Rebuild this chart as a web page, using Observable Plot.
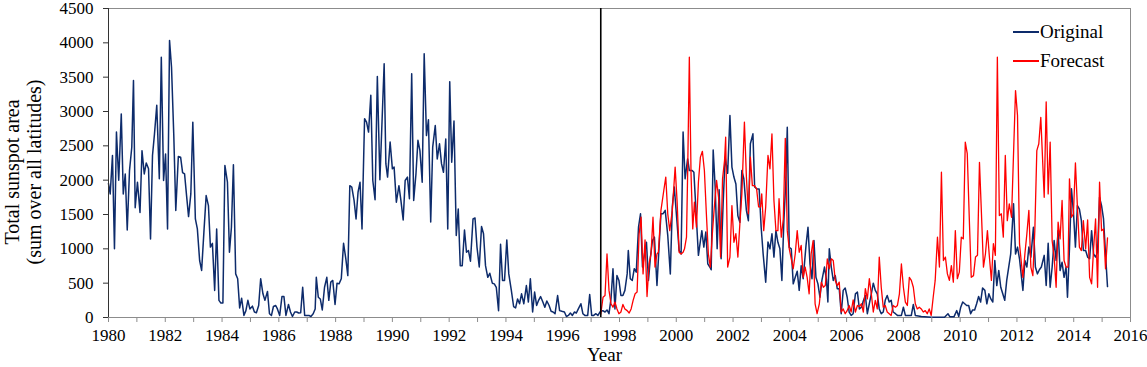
<!DOCTYPE html>
<html>
<head>
<meta charset="utf-8">
<script src="https://cdn.jsdelivr.net/npm/d3@7"></script>
<script src="https://cdn.jsdelivr.net/npm/@observablehq/plot@0.6"></script>
<style>
  html, body { margin: 0; padding: 0; background: #fff; }
  #wrap { position: relative; width: 1147px; height: 367px; font-family: "Liberation Serif", "Times New Roman", serif; }
  #legend { position: absolute; left: 1013px; top: 17px; font-size: 19px; line-height: 29px; color: #000; }
  #legend .row { display: flex; align-items: center; height: 29px; }
  #legend .sw { display: inline-block; width: 26px; height: 2px; margin-right: 1px; }
</style>
</head>
<body>
<div id="wrap"><div id="legend"></div></div>
<script>
// ---- data: [decimal year, total sunspot area] ----
const originalSeries = [
[1980.00,1950],[1980.06,1800],[1980.14,2360],[1980.21,1000],[1980.28,2700],[1980.36,2000],[1980.45,2965],[1980.52,1800],[1980.59,2090],[1980.66,1275],[1980.74,2140],[1980.82,2480],[1980.88,3450],[1980.94,1600],[1981.02,1970],[1981.11,1530],[1981.18,2430],[1981.26,2090],[1981.33,2250],[1981.41,2165],[1981.48,1145],[1981.55,2360],[1981.62,2675],[1981.70,3090],[1981.79,2020],[1981.86,3790],[1981.94,1995],[1982.01,2380],[1982.08,1290],[1982.15,4035],[1982.22,3645],[1982.30,2650],[1982.37,1560],[1982.46,2345],[1982.54,2335],[1982.61,2110],[1982.68,2090],[1982.75,1775],[1982.82,1470],[1982.90,1800],[1982.97,2845],[1983.06,1435],[1983.13,1290],[1983.21,830],[1983.28,685],[1983.36,1240],[1983.44,1775],[1983.52,1630],[1983.59,1025],[1983.66,1080],[1983.74,395],[1983.81,1290],[1983.89,250],[1983.96,210],[1984.03,210],[1984.10,2215],[1984.19,1970],[1984.26,950],[1984.33,1315],[1984.40,2225],[1984.48,635],[1984.55,565],[1984.62,140],[1984.69,280],[1984.77,30],[1984.84,100],[1984.91,250],[1984.98,125],[1985.07,165],[1985.14,80],[1985.21,70],[1985.29,175],[1985.36,565],
[1985.44,345],[1985.51,250],[1985.60,380],[1985.67,55],[1985.74,30],[1985.81,160],[1985.89,175],[1985.95,125],[1986.03,30],[1986.11,305],[1986.18,305],[1986.25,30],[1986.34,190],[1986.41,80],[1986.48,15],[1986.56,80],[1986.63,80],[1986.70,65],[1986.77,70],[1986.84,440],[1986.91,30],[1986.99,30],[1987.06,30],[1987.13,15],[1987.21,55],[1987.28,125],[1987.32,585],[1987.39,295],[1987.46,270],[1987.53,110],[1987.61,440],[1987.69,585],[1987.76,250],[1987.83,515],[1987.90,540],[1987.98,190],[1988.05,500],[1988.12,490],[1988.20,565],[1988.28,1080],[1988.36,855],[1988.43,610],[1988.50,1920],[1988.57,1900],[1988.65,1705],[1988.72,1435],[1988.79,1825],[1988.86,1970],[1988.93,1290],[1989.02,2895],[1989.09,2845],[1989.16,2700],[1989.24,3235],[1989.31,1995],[1989.39,1715],[1989.47,3510],[1989.56,2005],[1989.71,3695],[1989.77,2240],[1989.83,2045],[1989.92,2555],[1990.00,2165],[1990.06,2190],[1990.14,1680],[1990.23,1920],[1990.30,1705],[1990.38,1420],[1990.45,1995],[1990.53,2045],[1990.60,1730],
[1990.68,3550],[1990.75,1705],[1990.83,2090],[1990.90,2580],[1990.97,2430],[1991.05,1970],[1991.12,3840],[1991.20,2650],[1991.27,2880],[1991.35,1390],[1991.42,2480],[1991.51,2795],[1991.58,2310],[1991.66,2530],[1991.73,2240],[1991.80,2115],[1991.88,2600],[1991.95,1290],[1992.02,3435],[1992.09,2260],[1992.17,2860],[1992.25,1195],[1992.32,1580],[1992.39,755],[1992.46,755],[1992.54,1275],[1992.61,950],[1992.68,975],[1992.75,820],[1992.84,1435],[1992.91,1450],[1992.98,1025],[1993.06,735],[1993.14,1325],[1993.21,1220],[1993.28,755],[1993.36,585],[1993.43,645],[1993.52,500],[1993.59,490],[1993.66,440],[1993.74,100],[1993.81,1065],[1993.88,540],[1993.95,540],[1994.03,1130],[1994.10,635],[1994.19,395],[1994.27,160],[1994.34,140],[1994.41,270],[1994.48,200],[1994.55,345],[1994.63,200],[1994.72,465],[1994.79,225],[1994.86,565],[1994.94,80],[1995.01,370],[1995.08,175],[1995.15,250],[1995.22,305],[1995.30,225],[1995.37,150],[1995.44,240],[1995.52,175],[1995.59,90],[1995.66,80],[1995.73,55],[1995.82,320],[1995.89,100],
[1995.97,90],[1996.06,80],[1996.13,15],[1996.20,30],[1996.27,65],[1996.34,30],[1996.41,80],[1996.48,65],[1996.55,125],[1996.64,200],[1996.71,55],[1996.78,30],[1996.88,30],[1996.95,335],[1997.02,30],[1997.09,30],[1997.17,55],[1997.24,30],[1997.31,80],[1997.41,100],[1997.49,80],[1997.56,110],[1997.63,55],[1997.70,270],[1997.77,710],[1997.84,125],[1997.91,610],[1997.98,540],[1998.05,320],[1998.12,320],[1998.19,395],[1998.27,635],[1998.31,975],[1998.38,565],[1998.45,540],[1998.52,710],[1998.59,660],[1998.67,1315],[1998.74,1510],[1998.81,735],[1998.88,925],[1998.95,1095],[1999.02,540],[1999.09,880],[1999.16,1120],[1999.23,1170],[1999.32,465],[1999.39,1000],[1999.46,1510],[1999.53,1510],[1999.61,1560],[1999.70,1195],[1999.79,635],[1999.86,1610],[1999.93,1900],[2000.03,1365],[2000.10,975],[2000.17,925],[2000.24,2700],[2000.31,2020],[2000.40,2310],[2000.46,2140],[2000.56,2140],[2000.62,2115],[2000.78,905],[2000.90,1265],[2000.97,1025],[2001.04,1245],[2001.11,780],[2001.18,735],
[2001.23,695],[2001.30,2440],[2001.37,1900],[2001.44,1000],[2001.51,1860],[2001.58,855],[2001.65,1655],[2001.72,2335],[2001.81,2100],[2001.89,2940],[2001.96,2190],[2002.03,2045],[2002.10,1945],[2002.17,1480],[2002.24,1385],[2002.31,2140],[2002.38,2020],[2002.47,1560],[2002.54,1410],[2002.61,2530],[2002.70,2675],[2002.76,1900],[2002.85,1870],[2002.92,1870],[2002.99,1315],[2003.06,925],[2003.15,515],[2003.23,1100],[2003.30,1000],[2003.37,1220],[2003.44,880],[2003.51,1265],[2003.58,1095],[2003.65,1000],[2003.72,540],[2003.79,1410],[2003.86,1995],[2003.91,2770],[2003.98,1020],[2004.05,1000],[2004.12,490],[2004.19,585],[2004.26,675],[2004.33,395],[2004.40,755],[2004.47,565],[2004.57,1050],[2004.64,1315],[2004.71,780],[2004.78,565],[2004.85,1120],[2004.92,585],[2004.99,490],[2005.06,295],[2005.13,540],[2005.22,735],[2005.29,550],[2005.34,225],[2005.39,1000],[2005.46,735],[2005.53,540],[2005.60,610],[2005.67,420],[2005.74,420],[2005.81,55],[2005.88,395],[2005.95,430],[2006.02,295],[2006.09,80],[2006.16,30],[2006.23,55],[2006.31,345],[2006.38,370],[2006.45,125],[2006.52,150],
[2006.59,245],[2006.66,320],[2006.73,55],[2006.80,200],[2006.87,345],[2006.94,500],[2007.01,395],[2007.08,345],[2007.15,125],[2007.22,55],[2007.29,80],[2007.36,250],[2007.43,320],[2007.50,225],[2007.57,250],[2007.64,80],[2007.72,55],[2007.79,30],[2007.93,30],[2008.00,150],[2008.07,30],[2008.28,30],[2008.35,190],[2008.42,30],[2008.63,15],[2008.98,5],[2009.45,5],[2009.57,55],[2009.64,10],[2009.78,10],[2009.88,100],[2009.95,15],[2010.02,150],[2010.09,225],[2010.16,200],[2010.23,175],[2010.30,175],[2010.37,55],[2010.44,110],[2010.51,110],[2010.58,200],[2010.65,305],[2010.72,225],[2010.79,430],[2010.87,395],[2010.94,200],[2011.01,345],[2011.08,270],[2011.15,225],[2011.22,830],[2011.29,465],[2011.36,685],[2011.43,440],[2011.50,345],[2011.57,250],[2011.64,540],[2011.71,735],[2011.78,925],
[2011.88,1655],[2011.95,925],[2012.02,1025],[2012.09,855],[2012.21,395],[2012.28,830],[2012.35,735],[2012.42,1025],[2012.49,880],[2012.58,1315],[2012.65,735],[2012.72,635],[2012.79,695],[2012.86,735],[2012.96,905],[2013.03,465],[2013.10,1080],[2013.17,440],[2013.24,735],[2013.31,1120],[2013.38,830],[2013.45,1265],[2013.52,685],[2013.59,805],[2013.66,585],[2013.73,735],[2013.78,295],[2013.85,1000],[2013.92,1875],[2013.99,1535],[2014.06,1025],[2014.13,1630],[2014.20,1580],[2014.27,1410],[2014.34,975],[2014.42,975],[2014.49,880],[2014.56,855],[2014.63,1265],[2014.70,925],[2014.77,880],[2014.84,950],[2014.91,1750],[2014.98,1630],[2015.05,1435],[2015.12,925],[2015.19,450]
];

const forecastSeries = [
[1997.34,50],[1997.42,295],[1997.49,320],[1997.56,925],[1997.63,395],[1997.70,200],[1997.77,150],[1997.84,225],[1997.91,125],[1997.98,55],[1998.05,80],[1998.12,190],[1998.19,125],[1998.27,100],[1998.34,65],[1998.41,125],[1998.48,250],[1998.55,345],[1998.62,370],[1998.69,1215],[1998.76,1460],[1998.83,635],[1998.90,1130],[1998.97,305],[1999.04,780],[1999.11,925],[1999.18,1460],[1999.25,735],[1999.32,925],[1999.37,950],[1999.46,1560],[1999.56,1850],[1999.63,2045],[1999.70,1510],[1999.77,1265],[1999.86,1560],[1999.96,2190],[2000.03,1680],[2000.10,950],[2000.17,925],[2000.24,950],[2000.29,1000],[2000.36,1170],[2000.40,2090],[2000.46,3790],[2000.52,2090],[2000.58,1290],[2000.64,1680],[2000.71,1315],[2000.78,1970],[2000.85,2335],[2000.92,2420],[2000.99,2140],[2001.06,1510],[2001.13,925],[2001.20,735],
[2001.27,1220],[2001.34,1610],[2001.42,1995],[2001.49,1750],[2001.56,880],[2001.63,2020],[2001.70,2285],[2001.74,2625],[2001.81,735],[2001.89,880],[2001.96,1630],[2002.03,1095],[2002.10,1220],[2002.17,880],[2002.24,1365],[2002.31,1800],[2002.40,2845],[2002.47,2045],[2002.54,1510],[2002.61,2335],[2002.68,1920],[2002.76,1920],[2002.83,1870],[2002.90,1610],[2002.97,1610],[2003.01,1800],[2003.08,1265],[2003.15,1610],[2003.23,2360],[2003.30,2165],[2003.37,2675],[2003.44,1705],[2003.51,1265],[2003.58,1265],[2003.62,1730],[2003.70,1170],[2003.77,1435],[2003.84,2610],[2003.91,1265],[2003.98,1000],[2004.05,855],[2004.12,710],[2004.19,925],[2004.26,1265],[2004.33,950],[2004.40,1050],[2004.47,585],[2004.54,735],[2004.61,585],[2004.68,345],[2004.75,925],[2004.82,1120],[2004.89,200],[2004.96,55],[2005.04,200],[2005.11,515],[2005.18,440],[2005.25,465],[2005.32,855],[2005.39,710],[2005.46,855],[2005.53,830],[2005.60,540],[2005.67,465],[2005.74,515],[2005.81,80],[2005.88,125],[2005.95,55],[2006.02,100],[2006.09,175],[2006.16,80],[2006.23,255],[2006.31,80],[2006.38,175],[2006.45,160],[2006.52,200],
[2006.59,80],[2006.66,420],[2006.73,270],[2006.80,565],[2006.87,345],[2006.94,80],[2007.01,250],[2007.08,125],[2007.15,880],[2007.22,440],[2007.29,150],[2007.36,175],[2007.43,80],[2007.50,55],[2007.57,30],[2007.64,175],[2007.72,150],[2007.79,175],[2007.86,345],[2007.93,780],[2008.00,440],[2008.07,225],[2008.14,175],[2008.21,585],[2008.28,540],[2008.35,440],[2008.42,200],[2008.49,125],[2008.56,150],[2008.63,125],[2008.70,80],[2008.77,100],[2008.84,55],[2008.91,125],[2008.98,30],[2009.05,295],[2009.12,540],[2009.20,1170],[2009.27,735],[2009.34,2115],[2009.41,830],[2009.48,880],[2009.55,635],[2009.62,540],[2009.69,755],[2009.76,515],[2009.83,1265],[2009.90,565],[2009.97,660],[2010.04,1170],[2010.11,1145],[2010.18,2555],[2010.25,2385],[2010.32,1460],[2010.39,585],[2010.47,610],[2010.54,880],[2010.61,905],[2010.68,2260],[2010.75,1510],[2010.82,735],[2010.89,925],[2010.96,1265],[2011.03,880],[2011.10,540],[2011.17,1075],[2011.24,905],[2011.31,3790],[2011.38,1485],[2011.45,1510],[2011.52,1170],[2011.59,2360],[2011.66,1410],[2011.73,1655],[2011.81,1460],
[2011.95,3305],[2012.02,2940],[2012.09,1075],[2012.16,780],[2012.21,585],[2012.28,925],[2012.35,1220],[2012.42,1560],[2012.49,735],[2012.56,610],[2012.63,1265],[2012.70,2430],[2012.77,2530],[2012.84,2915],[2012.89,2430],[2012.96,1750],[2013.03,3140],[2013.10,1800],[2013.17,2555],[2013.24,1120],[2013.31,880],[2013.38,440],[2013.45,1390],[2013.52,1145],[2013.59,1705],[2013.66,830],[2013.73,735],[2013.80,735],[2013.85,2020],[2013.92,1460],[2013.99,1510],[2014.06,2250],[2014.13,1610],[2014.20,1025],[2014.27,975],[2014.34,1410],[2014.42,1000],[2014.49,1420],[2014.56,585],[2014.63,490],[2014.70,1000],[2014.77,1435],[2014.84,440],[2014.91,1970],[2014.98,1265],[2015.05,1290],[2015.12,710],[2015.19,1160]
];

const forecastStart = [1997.34];
const seriesNames = ["Original", "Forecast"];
const seriesColors = ["#0d2b6b", "#ff0000"];
const xTickValues = d3.range(1980, 2017, 1);
const yTickValues = d3.range(0, 4501, 500);
const xTitle = "Year";
const yTitle = "Total sunspot area\n(sum over all latitudes)";

const toRows = (arr) => arr.map(([t, v]) => ({ t, v }));
const orig = toRows(originalSeries);
const fc = toRows(forecastSeries);

const chart = Plot.plot({
  width: 1147,
  height: 367,
  marginLeft: 108,
  marginRight: 17,
  marginTop: 8,
  marginBottom: 50,
  style: { fontFamily: "'Liberation Serif', 'Times New Roman', serif", fontSize: "17px", background: "#fff", color: "#000" },
  x: { domain: [1980, 2016] },
  y: { domain: [0, 4500] },
  marks: [
    Plot.frame({ stroke: "#8c8c8c", strokeWidth: 1 }),
    Plot.lineY(orig, { x: "t", y: "v", stroke: seriesColors[0], strokeWidth: 1.5 }),
    Plot.lineY(fc, { x: "t", y: "v", stroke: seriesColors[1], strokeWidth: 1.3 }),
    Plot.ruleX(forecastStart, { stroke: "#000", strokeWidth: 1.6 }),
    Plot.ruleX([1980], { stroke: "#333", strokeWidth: 1 }),
    Plot.axisX({ ticks: xTickValues, tickFormat: d => (d % 2 === 0 ? String(d) : ""), tickSize: 5, tickPadding: 6, stroke: "#8c8c8c", fill: "#000", label: null }),
    Plot.axisY({ ticks: yTickValues, tickFormat: d3.format("d"), tickSize: 5, tickPadding: 10, stroke: "#333", fill: "#000", label: null }),
    Plot.text([xTitle], { frameAnchor: "bottom", textAnchor: "middle", dx: -15, dy: 43, fontSize: 19, fill: "#000" }),
    Plot.text([yTitle], { frameAnchor: "left", textAnchor: "middle", lineAnchor: "middle", rotate: -90, dx: -86, dy: 9, fontSize: 20, lineHeight: 1.1, fill: "#000" })
  ]
});

const wrap = document.getElementById("wrap");
wrap.insertBefore(chart, wrap.firstChild);

const legend = document.getElementById("legend");
seriesNames.forEach((name, i) => {
  const row = document.createElement("div");
  row.className = "row";
  const sw = document.createElement("span");
  sw.className = "sw";
  sw.style.background = seriesColors[i];
  const label = document.createElement("span");
  label.textContent = name;
  row.appendChild(sw);
  row.appendChild(label);
  legend.appendChild(row);
});
</script>
</body>
</html>
